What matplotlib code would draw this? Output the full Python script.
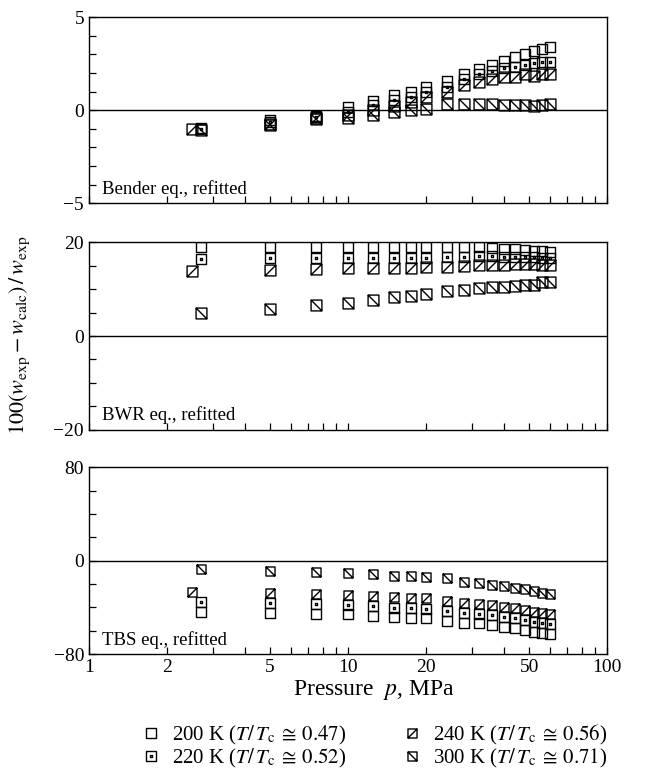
import numpy as np
import matplotlib
matplotlib.use("Agg")
import matplotlib.pyplot as plt
from matplotlib.path import Path
from matplotlib.ticker import FixedLocator, NullFormatter, MultipleLocator, FuncFormatter

plt.rcParams["font.family"] = ["Liberation Serif", "DejaVu Serif"]
plt.rcParams["mathtext.fontset"] = "stix"

# --- data: pressures (MPa) and deviations (%) ---
P = [2.7, 5, 7.5, 10, 12.5, 15, 17.5, 20, 24, 28, 32, 36, 40, 44, 48, 52, 56, 60]
P240 = [2.5] + P[1:]

bender_200 = [-0.95, -0.55, -0.30, 0.18, 0.48, 0.83, 0.97, 1.24, 1.59, 1.94, 2.20, 2.40, 2.65, 2.83, 3.00, 3.18, 3.27, 3.40]
bender_220 = [-1.00, -0.65, -0.35, -0.09, 0.27, 0.53, 0.71, 0.97, 1.24, 1.68, 1.94, 2.10, 2.24, 2.30, 2.44, 2.56, 2.60, 2.60]
bender_240 = [-1.03, -0.75, -0.40, -0.27, 0.00, 0.23, 0.44, 0.71, 0.97, 1.33, 1.50, 1.68, 1.77, 1.77, 1.94, 1.86, 1.94, 1.94]
bender_300 = [-1.06, -0.80, -0.45, -0.40, -0.27, -0.09, 0.00, 0.09, 0.35, 0.35, 0.35, 0.35, 0.30, 0.30, 0.30, 0.23, 0.30, 0.35]

bwr_200 = [18.9, 18.9, 18.9, 18.9, 18.9, 18.9, 18.9, 18.9, 18.9, 18.9, 18.9, 18.7, 18.6, 18.5, 18.4, 18.2, 18.1, 18.0]
bwr_220 = [16.4, 16.6, 16.6, 16.6, 16.7, 16.7, 16.7, 16.7, 16.9, 16.9, 17.0, 17.0, 16.9, 16.9, 16.9, 16.8, 16.7, 16.6]
bwr_240 = [13.9, 14.1, 14.2, 14.4, 14.4, 14.5, 14.5, 14.6, 14.8, 15.0, 15.1, 15.2, 15.2, 15.3, 15.4, 15.3, 15.2, 15.2]
bwr_300 = [4.8, 5.8, 6.5, 7.1, 7.7, 8.3, 8.5, 9.0, 9.6, 9.8, 10.2, 10.4, 10.5, 10.7, 10.8, 10.9, 11.5, 11.5]

tbs_200 = [-43.6, -44.4, -45.6, -45.6, -47.3, -48.4, -48.7, -49.3, -51.3, -53.0, -53.6, -55.0, -56.4, -57.8, -59.3, -60.7, -61.5, -62.7]
tbs_220 = [-35.0, -35.9, -37.0, -37.9, -38.7, -40.2, -40.7, -41.6, -43.0, -44.4, -45.6, -46.4, -47.9, -49.3, -50.7, -52.1, -53.0, -54.1]
tbs_240 = [-26.5, -27.9, -28.5, -29.3, -30.2, -30.8, -32.2, -32.2, -34.2, -35.9, -37.0, -37.9, -39.3, -40.7, -42.2, -43.6, -44.4, -45.6]
tbs_300 = [-7.4, -8.5, -9.4, -10.8, -11.4, -12.8, -13.1, -14.2, -15.1, -17.9, -19.4, -20.8, -21.7, -23.1, -24.5, -25.9, -27.4, -28.5]

labels = [r"200 K ($T/\,T_{\rm c}\;\cong\,0.47$)", r"220 K ($T/\,T_{\rm c}\;\cong\,0.52$)",
          r"240 K ($T/\,T_{\rm c}\;\cong\,0.56$)", r"300 K ($T/\,T_{\rm c}\;\cong\,0.71$)"]

panels = [
    ("Bender eq., refitted", (-5, 5), 1, [bender_200, bender_220, bender_240, bender_300]),
    ("BWR eq., refitted", (-20, 20), 5, [bwr_200, bwr_220, bwr_240, bwr_300]),
    ("TBS eq., refitted", (-80, 80), 20, [tbs_200, tbs_220, tbs_240, tbs_300]),
]

# --- marker shapes: open square, square+dot, square with / and with \ ---
M, L, C = Path.MOVETO, Path.LINETO, Path.CLOSEPOLY
sq_v = [(-1, -1), (1, -1), (1, 1), (-1, 1), (-1, -1)]
sq_c = [M, L, L, L, C]
d = 0.12
m_sq = Path(sq_v, sq_c)
m_dot = Path(sq_v + [(-d, -d), (d, -d), (d, d), (-d, d), (-d, -d)], sq_c + [M, L, L, L, C])
m_fwd = Path(sq_v + [(-1, -1), (1, 1)], sq_c + [M, L])
m_bck = Path(sq_v + [(-1, 1), (1, -1)], sq_c + [M, L])
markers = [m_sq, m_dot, m_fwd, m_bck]

fig = plt.figure(figsize=(6.72, 7.76), dpi=100)
left, width = 0.1324, 0.771
boxes = [(0.738, 0.240), (0.446, 0.242), (0.157, 0.241)]

for (name, ylim, minor, series), (b, h) in zip(panels, boxes):
    ax = fig.add_axes([left, b, width, h])
    for i, (vals, mk) in enumerate(zip(series, markers)):
        xs = P240 if i == 2 else P
        ax.plot(xs, vals, ls="none", marker=mk, ms=7.8, mfc="none",
                mec="black", mew=1.0, label=labels[i])
    ax.axhline(0, color="black", lw=1.0, zorder=0)
    ax.set_xscale("log")
    ax.set_xlim(1, 100)
    ax.set_ylim(*ylim)
    ax.xaxis.set_major_locator(FixedLocator([1, 2, 5, 10, 20, 50, 100]))
    ax.xaxis.set_minor_locator(FixedLocator([3, 4, 6, 7, 8, 9, 30, 40, 60, 70, 80, 90]))
    ax.xaxis.set_minor_formatter(NullFormatter())
    ax.xaxis.set_major_formatter(FuncFormatter(lambda v, _: f"{v:g}"))
    ax.yaxis.set_major_locator(FixedLocator([ylim[0], 0, ylim[1]]))
    ax.yaxis.set_minor_locator(MultipleLocator(minor))
    ax.tick_params(which="both", direction="in", length=5, width=0.9, top=False, right=False, labelsize=14)
    for s in ax.spines.values():
        s.set_linewidth(1.0)
    if ylim[1] != 80:
        ax.tick_params(axis="x", labelbottom=False)
    ax.text(0.025, 0.03, name, transform=ax.transAxes, fontsize=13.5, va="bottom", ha="left")
    last = ax

fig.text(0.03, 0.568, r"$100(w_{\rm exp}-w_{\rm calc})\,/\,w_{\rm exp}$", rotation=90,
         fontsize=16, ha="center", va="center")
fig.text(0.556, 0.111, r"Pressure  $p$, MPa", fontsize=17, ha="center", va="center")

h, l = last.get_legend_handles_labels()
for hd in h:
    hd.set_markersize(6.5)
fig.legend(h, l, ncol=2, loc="lower center", bbox_to_anchor=(0.558, -0.008), frameon=False,
           fontsize=15, handlelength=0.8, handletextpad=0.6, columnspacing=2.8,
           labelspacing=0.0, borderpad=0.1)

fig.savefig("out.png", dpi=100)
